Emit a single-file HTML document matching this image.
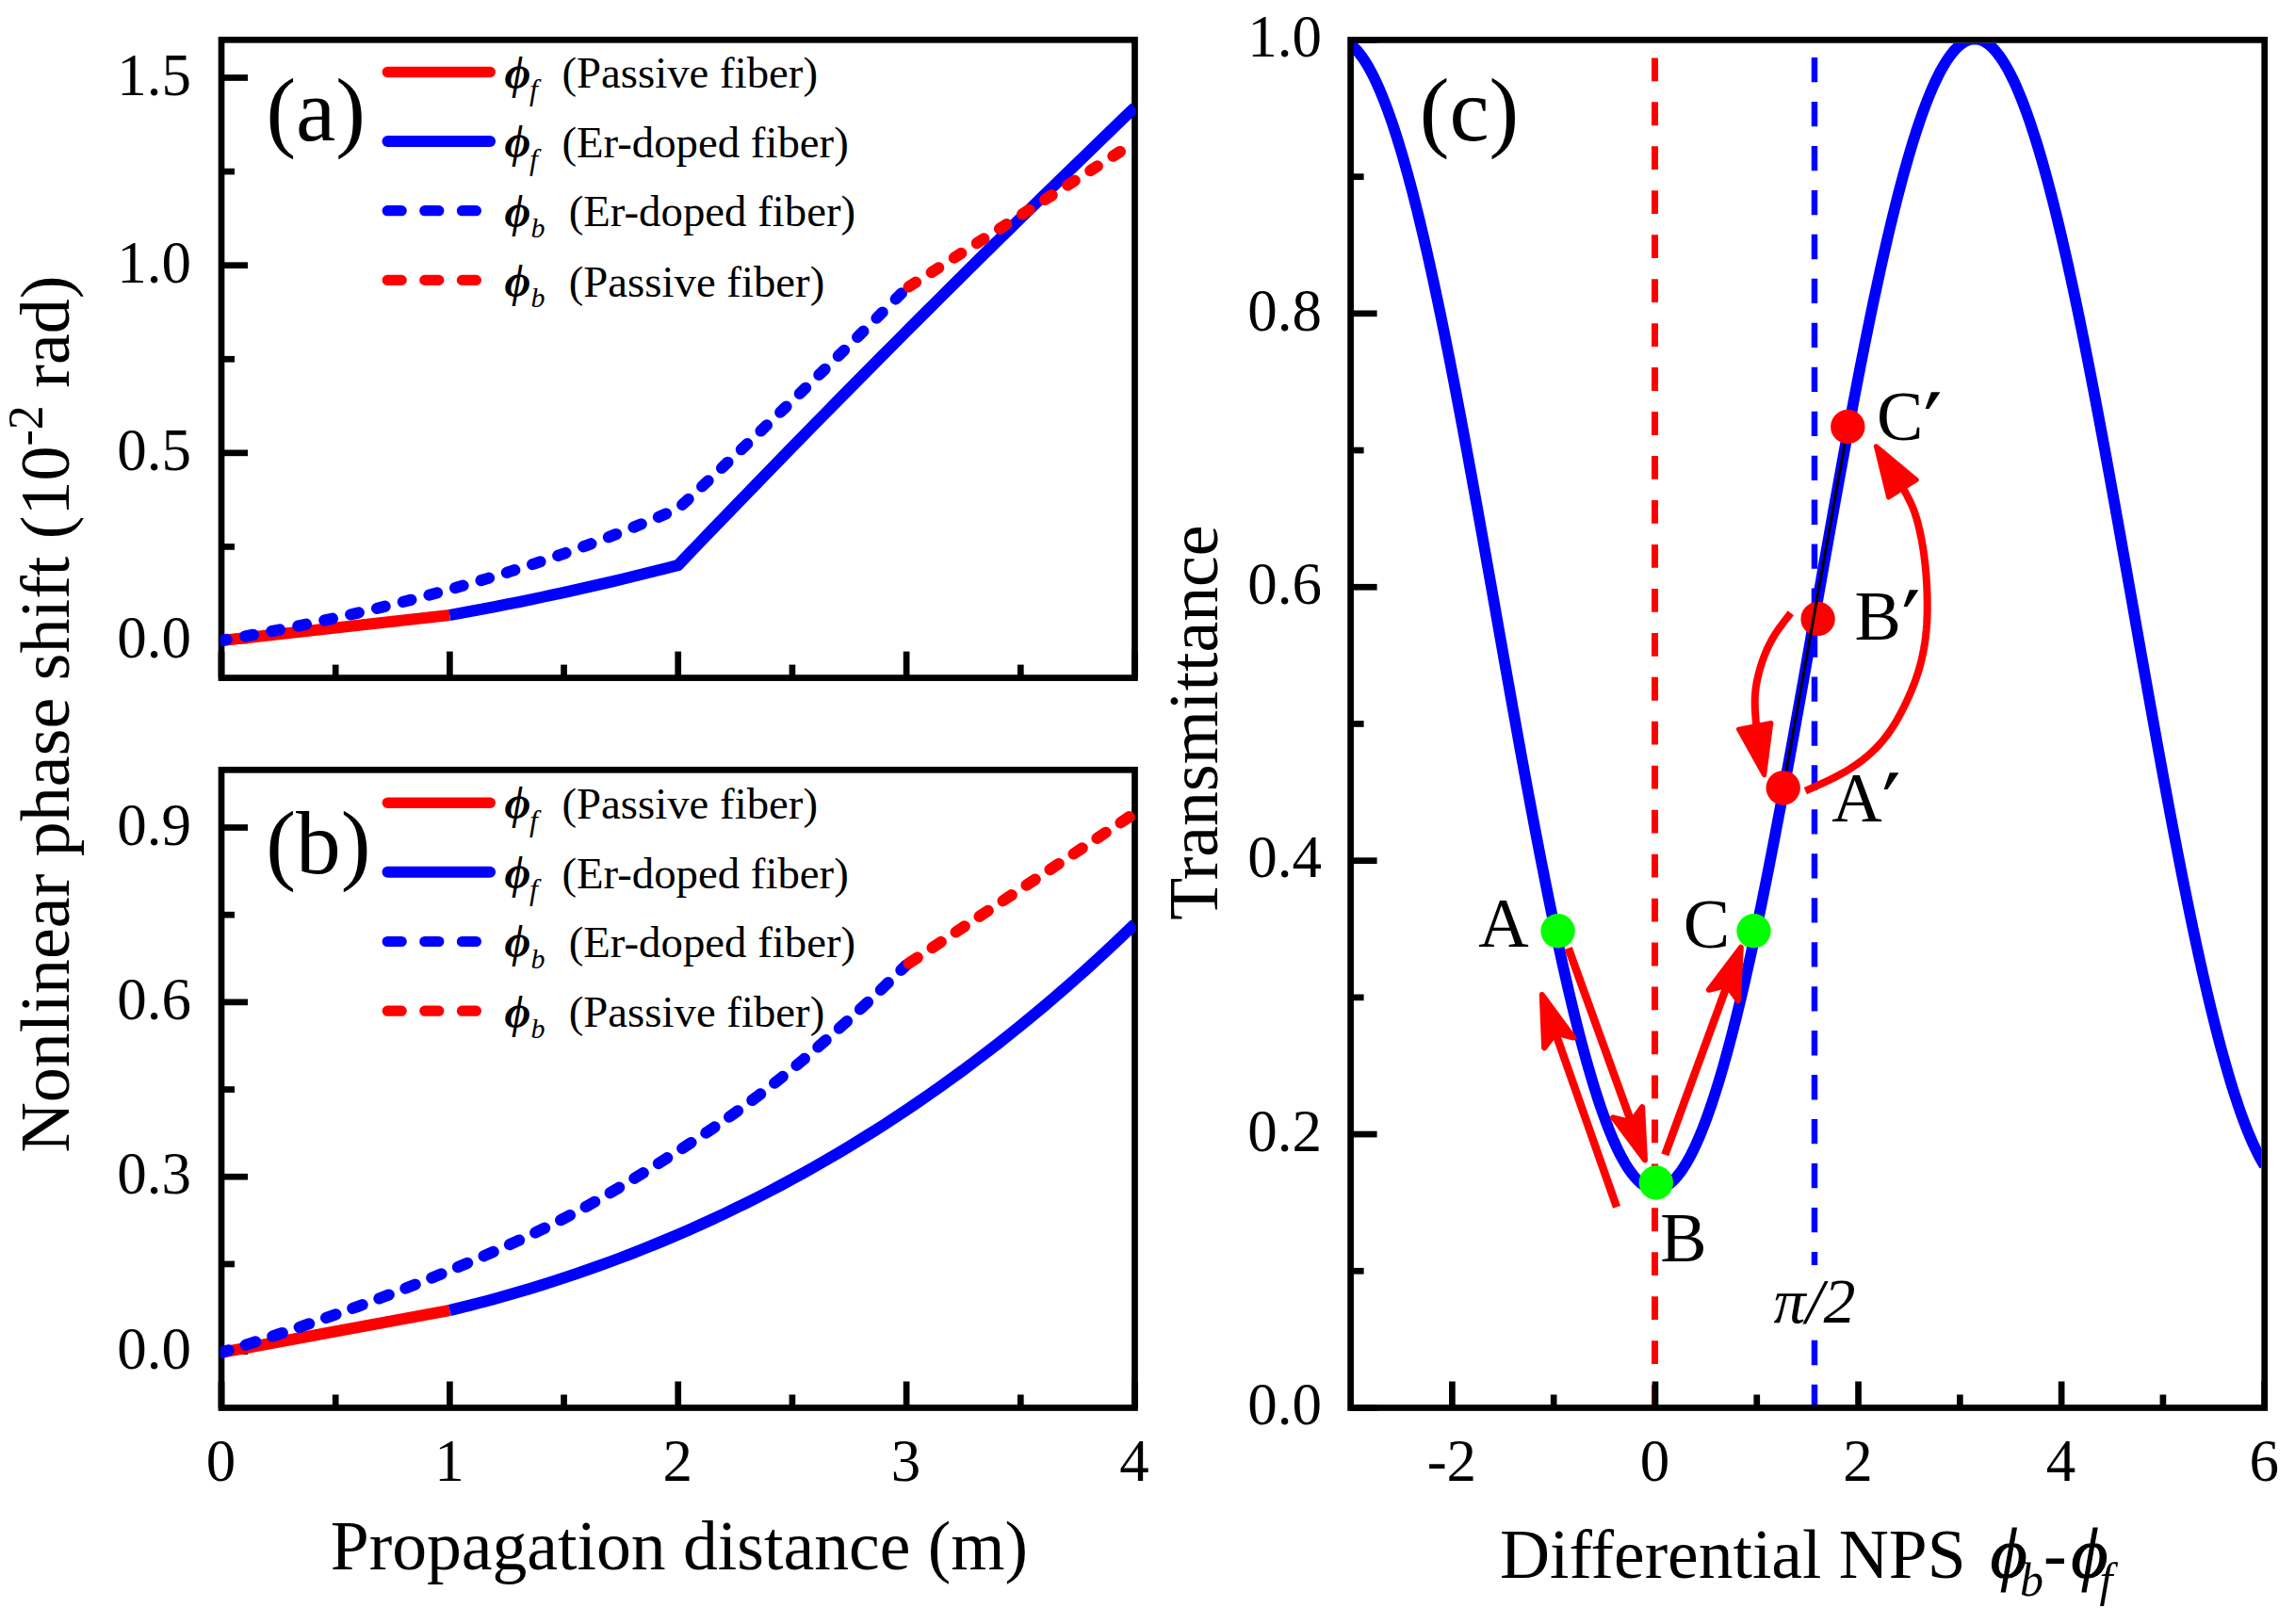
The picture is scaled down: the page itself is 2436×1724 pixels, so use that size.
<!DOCTYPE html>
<html><head><meta charset="utf-8"><title>Figure</title>
<style>
html,body{margin:0;padding:0;background:#fff;}
svg{display:block;}
text{font-family:"Liberation Serif","DejaVu Serif",serif;fill:#000;}
</style></head>
<body>
<svg width="2436" height="1724" viewBox="0 0 2436 1724">
<rect width="2436" height="1724" fill="#fff"/>
<clipPath id="ca"><rect x="234.0" y="42.3" width="972.0" height="677.3000000000001"/></clipPath>
<clipPath id="cb"><rect x="234.0" y="817.3" width="972.0" height="677.2"/></clipPath>
<clipPath id="cc"><rect x="1436.8999999999999" y="45.699999999999996" width="963.4999999999999" height="1445.5"/></clipPath>
<line x1="1756.50" y1="61.40" x2="1756.50" y2="1494.50" stroke="#ff0000" stroke-width="7" stroke-dasharray="24.8 22.16"/>
<line x1="1926.00" y1="61.00" x2="1926.00" y2="1494.50" stroke="#0000ff" stroke-width="6.5" stroke-dasharray="26.3 20.66"/>
<g id="axes">
<rect x="235.0" y="42.3" width="969.50" height="677.30" fill="none" stroke="#000" stroke-width="6.7"/>
<rect x="235.0" y="817.3" width="969.50" height="677.20" fill="none" stroke="#000" stroke-width="6.7"/>
<rect x="1433.6" y="42.4" width="970.10" height="1452.10" fill="none" stroke="#000" stroke-width="6.7"/>
<line x1="235.00" y1="680.00" x2="263.00" y2="680.00" stroke="#000" stroke-width="6.7" />
<text x="203.10" y="698.00" font-size="63" text-anchor="end" >0.0</text>
<line x1="235.00" y1="480.83" x2="263.00" y2="480.83" stroke="#000" stroke-width="6.7" />
<text x="203.10" y="498.83" font-size="63" text-anchor="end" >0.5</text>
<line x1="235.00" y1="281.67" x2="263.00" y2="281.67" stroke="#000" stroke-width="6.7" />
<text x="203.10" y="299.67" font-size="63" text-anchor="end" >1.0</text>
<line x1="235.00" y1="82.50" x2="263.00" y2="82.50" stroke="#000" stroke-width="6.7" />
<text x="203.10" y="100.50" font-size="63" text-anchor="end" >1.5</text>
<line x1="235.00" y1="580.42" x2="249.00" y2="580.42" stroke="#000" stroke-width="6.7" />
<line x1="235.00" y1="381.25" x2="249.00" y2="381.25" stroke="#000" stroke-width="6.7" />
<line x1="235.00" y1="182.08" x2="249.00" y2="182.08" stroke="#000" stroke-width="6.7" />
<line x1="235.00" y1="719.60" x2="235.00" y2="691.60" stroke="#000" stroke-width="6.7" />
<line x1="477.38" y1="719.60" x2="477.38" y2="691.60" stroke="#000" stroke-width="6.7" />
<line x1="719.75" y1="719.60" x2="719.75" y2="691.60" stroke="#000" stroke-width="6.7" />
<line x1="962.12" y1="719.60" x2="962.12" y2="691.60" stroke="#000" stroke-width="6.7" />
<line x1="1204.50" y1="719.60" x2="1204.50" y2="691.60" stroke="#000" stroke-width="6.7" />
<line x1="356.19" y1="719.60" x2="356.19" y2="705.60" stroke="#000" stroke-width="6.7" />
<line x1="598.56" y1="719.60" x2="598.56" y2="705.60" stroke="#000" stroke-width="6.7" />
<line x1="840.94" y1="719.60" x2="840.94" y2="705.60" stroke="#000" stroke-width="6.7" />
<line x1="1083.31" y1="719.60" x2="1083.31" y2="705.60" stroke="#000" stroke-width="6.7" />
<line x1="235.00" y1="1494.50" x2="235.00" y2="1466.50" stroke="#000" stroke-width="6.7" />
<text x="234.50" y="1571.80" font-size="63" text-anchor="middle" >0</text>
<line x1="477.38" y1="1494.50" x2="477.38" y2="1466.50" stroke="#000" stroke-width="6.7" />
<text x="476.88" y="1571.80" font-size="63" text-anchor="middle" >1</text>
<line x1="719.75" y1="1494.50" x2="719.75" y2="1466.50" stroke="#000" stroke-width="6.7" />
<text x="719.25" y="1571.80" font-size="63" text-anchor="middle" >2</text>
<line x1="962.12" y1="1494.50" x2="962.12" y2="1466.50" stroke="#000" stroke-width="6.7" />
<text x="961.62" y="1571.80" font-size="63" text-anchor="middle" >3</text>
<line x1="1204.50" y1="1494.50" x2="1204.50" y2="1466.50" stroke="#000" stroke-width="6.7" />
<text x="1204.00" y="1571.80" font-size="63" text-anchor="middle" >4</text>
<line x1="356.19" y1="1494.50" x2="356.19" y2="1480.50" stroke="#000" stroke-width="6.7" />
<line x1="598.56" y1="1494.50" x2="598.56" y2="1480.50" stroke="#000" stroke-width="6.7" />
<line x1="840.94" y1="1494.50" x2="840.94" y2="1480.50" stroke="#000" stroke-width="6.7" />
<line x1="1083.31" y1="1494.50" x2="1083.31" y2="1480.50" stroke="#000" stroke-width="6.7" />
<line x1="235.00" y1="1434.60" x2="263.00" y2="1434.60" stroke="#000" stroke-width="6.7" />
<text x="203.10" y="1452.60" font-size="63" text-anchor="end" >0.0</text>
<line x1="235.00" y1="1249.23" x2="263.00" y2="1249.23" stroke="#000" stroke-width="6.7" />
<text x="203.10" y="1267.23" font-size="63" text-anchor="end" >0.3</text>
<line x1="235.00" y1="1063.87" x2="263.00" y2="1063.87" stroke="#000" stroke-width="6.7" />
<text x="203.10" y="1081.87" font-size="63" text-anchor="end" >0.6</text>
<line x1="235.00" y1="878.50" x2="263.00" y2="878.50" stroke="#000" stroke-width="6.7" />
<text x="203.10" y="896.50" font-size="63" text-anchor="end" >0.9</text>
<line x1="235.00" y1="1341.92" x2="249.00" y2="1341.92" stroke="#000" stroke-width="6.7" />
<line x1="235.00" y1="1156.55" x2="249.00" y2="1156.55" stroke="#000" stroke-width="6.7" />
<line x1="235.00" y1="971.18" x2="249.00" y2="971.18" stroke="#000" stroke-width="6.7" />
<line x1="1433.60" y1="1494.50" x2="1461.60" y2="1494.50" stroke="#000" stroke-width="6.7" />
<text x="1403.00" y="1512.30" font-size="63" text-anchor="end" >0.0</text>
<line x1="1433.60" y1="1204.08" x2="1461.60" y2="1204.08" stroke="#000" stroke-width="6.7" />
<text x="1403.00" y="1221.88" font-size="63" text-anchor="end" >0.2</text>
<line x1="1433.60" y1="913.66" x2="1461.60" y2="913.66" stroke="#000" stroke-width="6.7" />
<text x="1403.00" y="931.46" font-size="63" text-anchor="end" >0.4</text>
<line x1="1433.60" y1="623.24" x2="1461.60" y2="623.24" stroke="#000" stroke-width="6.7" />
<text x="1403.00" y="641.04" font-size="63" text-anchor="end" >0.6</text>
<line x1="1433.60" y1="332.82" x2="1461.60" y2="332.82" stroke="#000" stroke-width="6.7" />
<text x="1403.00" y="350.62" font-size="63" text-anchor="end" >0.8</text>
<line x1="1433.60" y1="42.40" x2="1461.60" y2="42.40" stroke="#000" stroke-width="6.7" />
<text x="1403.00" y="60.20" font-size="63" text-anchor="end" >1.0</text>
<line x1="1433.60" y1="1349.29" x2="1447.60" y2="1349.29" stroke="#000" stroke-width="6.7" />
<line x1="1433.60" y1="1058.87" x2="1447.60" y2="1058.87" stroke="#000" stroke-width="6.7" />
<line x1="1433.60" y1="768.45" x2="1447.60" y2="768.45" stroke="#000" stroke-width="6.7" />
<line x1="1433.60" y1="478.03" x2="1447.60" y2="478.03" stroke="#000" stroke-width="6.7" />
<line x1="1433.60" y1="187.61" x2="1447.60" y2="187.61" stroke="#000" stroke-width="6.7" />
<line x1="1541.39" y1="1494.50" x2="1541.39" y2="1466.50" stroke="#000" stroke-width="6.7" />
<text x="1540.89" y="1572.30" font-size="63" text-anchor="middle" >-2</text>
<line x1="1756.97" y1="1494.50" x2="1756.97" y2="1466.50" stroke="#000" stroke-width="6.7" />
<text x="1756.47" y="1572.30" font-size="63" text-anchor="middle" >0</text>
<line x1="1972.54" y1="1494.50" x2="1972.54" y2="1466.50" stroke="#000" stroke-width="6.7" />
<text x="1972.04" y="1572.30" font-size="63" text-anchor="middle" >2</text>
<line x1="2188.12" y1="1494.50" x2="2188.12" y2="1466.50" stroke="#000" stroke-width="6.7" />
<text x="2187.62" y="1572.30" font-size="63" text-anchor="middle" >4</text>
<line x1="2403.70" y1="1494.50" x2="2403.70" y2="1466.50" stroke="#000" stroke-width="6.7" />
<text x="2403.20" y="1572.30" font-size="63" text-anchor="middle" >6</text>
<line x1="1649.18" y1="1494.50" x2="1649.18" y2="1480.50" stroke="#000" stroke-width="6.7" />
<line x1="1864.76" y1="1494.50" x2="1864.76" y2="1480.50" stroke="#000" stroke-width="6.7" />
<line x1="2080.33" y1="1494.50" x2="2080.33" y2="1480.50" stroke="#000" stroke-width="6.7" />
<line x1="2295.91" y1="1494.50" x2="2295.91" y2="1480.50" stroke="#000" stroke-width="6.7" />
</g>
<g id="panel-a" clip-path="url(#ca)">
<path d="M235.00,680.00 L477.38,653.03" fill="none" stroke="#ff0000" stroke-width="12.2" />
<path d="M477.38,653.00 L489.49,650.82 L501.61,648.58 L513.73,646.30 L525.85,643.97 L537.97,641.59 L550.09,639.16 L562.21,636.68 L574.33,634.15 L586.44,631.57 L598.56,628.95 L610.68,626.27 L622.80,623.55 L634.92,620.78 L647.04,617.95 L659.16,615.08 L671.28,612.17 L683.39,609.20 L695.51,606.18 L707.63,603.12 L719.75,600.00 L731.87,587.26 L743.99,574.63 L756.11,562.03 L768.23,549.46 L780.34,536.91 L792.46,524.39 L804.58,511.89 L816.70,499.43 L828.82,486.98 L840.94,474.56 L853.06,462.17 L865.18,449.81 L877.29,437.47 L889.41,425.15 L901.53,412.86 L913.65,400.60 L925.77,388.36 L937.89,376.15 L950.01,363.97 L962.12,351.81 L974.24,339.68 L986.36,327.57 L998.48,315.49 L1010.60,303.44 L1022.72,291.41 L1034.84,279.40 L1046.96,267.43 L1059.08,255.47 L1071.19,243.55 L1083.31,231.65 L1095.43,219.78 L1107.55,207.93 L1119.67,196.11 L1131.79,184.31 L1143.91,172.54 L1156.03,160.80 L1168.14,149.08 L1180.26,137.39 L1192.38,125.72 L1204.50,114.08" fill="none" stroke="#0000ff" stroke-width="12.2" stroke-linejoin="miter"/>
<path d="M235.00,680.00 L243.08,678.56 L251.16,677.11 L259.24,675.63 L267.32,674.12 L275.40,672.60 L283.48,671.05 L291.55,669.47 L299.63,667.87 L307.71,666.25 L315.79,664.60 L323.87,662.93 L331.95,661.23 L340.03,659.50 L348.11,657.75 L356.19,655.97 L364.27,654.16 L372.35,652.33 L380.42,650.47 L388.50,648.57 L396.58,646.65 L404.66,644.70 L412.74,642.72 L420.82,640.71 L428.90,638.67 L436.98,636.59 L445.06,634.48 L453.14,632.35 L461.22,630.17 L469.30,627.97 L477.38,625.73 L485.45,623.45 L493.53,621.14 L501.61,618.80 L509.69,616.42 L517.77,614.00 L525.85,611.54 L533.93,609.05 L542.01,606.52 L550.09,603.95 L558.17,601.33 L566.25,598.68 L574.33,595.99 L582.40,593.26 L590.48,590.48 L598.56,587.66 L606.64,584.80 L614.72,581.89 L622.80,578.94 L630.88,575.94 L638.96,572.90 L647.04,569.81 L655.12,566.67 L663.20,563.48 L671.28,560.25 L679.35,556.96 L687.43,553.62 L695.51,550.23 L703.59,546.79 L711.67,543.30 L719.75,539.75 L727.83,532.52 L735.91,525.01 L743.99,517.48 L752.07,509.93 L760.15,502.36 L768.23,494.77 L776.30,487.16 L784.38,479.52 L792.46,471.87 L800.54,464.19 L808.62,456.49 L816.70,448.76 L824.78,441.02 L832.86,433.26 L840.94,425.47 L849.02,417.66 L857.10,409.83 L865.18,401.98 L873.25,394.11 L881.33,386.21 L889.41,378.30 L897.49,370.36 L905.57,362.40 L913.65,354.42 L921.73,346.42 L929.81,338.39 L937.89,330.35 L945.97,322.28 L954.05,314.19 L962.12,306.08" fill="none" stroke="#0000ff" stroke-width="12.2" stroke-dasharray="8.8 19.8" stroke-linecap="round" stroke-dashoffset="3"/>
<path d="M962.12,306.08 L1204.50,151.00" fill="none" stroke="#ff0000" stroke-width="12.2" stroke-dasharray="8.8 19.8" stroke-linecap="round" stroke-dashoffset="-3"/>
</g>
<g id="panel-b" clip-path="url(#cb)">
<path d="M235.00,1435.80 L477.38,1391.00" fill="none" stroke="#ff0000" stroke-width="12.2" />
<path d="M477.38,1391.00 L489.49,1388.04 L501.61,1384.97 L513.73,1381.80 L525.85,1378.52 L537.97,1375.13 L550.09,1371.64 L562.21,1368.03 L574.33,1364.32 L586.44,1360.49 L598.56,1356.55 L610.68,1352.50 L622.80,1348.32 L634.92,1344.03 L647.04,1339.62 L659.16,1335.10 L671.28,1330.45 L683.39,1325.67 L695.51,1320.77 L707.63,1315.75 L719.75,1310.60 L731.87,1305.32 L743.99,1299.90 L756.11,1294.36 L768.23,1288.68 L780.34,1282.87 L792.46,1276.92 L804.58,1270.84 L816.70,1264.61 L828.82,1258.24 L840.94,1251.73 L853.06,1245.07 L865.18,1238.27 L877.29,1231.32 L889.41,1224.22 L901.53,1216.97 L913.65,1209.56 L925.77,1202.00 L937.89,1194.28 L950.01,1186.41 L962.12,1178.37 L974.24,1170.17 L986.36,1161.81 L998.48,1153.28 L1010.60,1144.58 L1022.72,1135.71 L1034.84,1126.67 L1046.96,1117.45 L1059.08,1108.06 L1071.19,1098.49 L1083.31,1088.74 L1095.43,1078.81 L1107.55,1068.70 L1119.67,1058.39 L1131.79,1047.90 L1143.91,1037.22 L1156.03,1026.34 L1168.14,1015.27 L1180.26,1004.00 L1192.38,992.53 L1204.50,980.86" fill="none" stroke="#0000ff" stroke-width="12.2" />
<path d="M235.00,1435.80 L247.12,1432.05 L259.24,1428.23 L271.36,1424.35 L283.48,1420.40 L295.59,1416.39 L307.71,1412.32 L319.83,1408.19 L331.95,1403.99 L344.07,1399.75 L356.19,1395.44 L368.31,1391.08 L380.43,1386.65 L392.54,1382.16 L404.66,1377.61 L416.78,1372.98 L428.90,1368.28 L441.02,1363.50 L453.14,1358.64 L465.26,1353.71 L477.38,1348.69 L489.49,1343.60 L501.61,1338.46 L513.73,1333.25 L525.85,1327.95 L537.97,1322.55 L550.09,1317.04 L562.21,1311.39 L574.33,1305.59 L586.44,1299.63 L598.56,1293.49 L610.68,1287.13 L622.80,1280.52 L634.92,1273.70 L647.04,1266.68 L659.16,1259.49 L671.28,1252.16 L683.39,1244.71 L695.51,1237.17 L707.63,1229.56 L719.75,1221.90 L731.87,1214.15 L743.99,1206.23 L756.11,1198.12 L768.23,1189.79 L780.34,1181.23 L792.46,1172.41 L804.58,1163.34 L816.70,1154.01 L828.82,1144.45 L840.94,1134.66 L853.06,1124.60 L865.18,1114.25 L877.29,1103.64 L889.41,1092.84 L901.53,1081.89 L913.65,1070.77 L925.77,1059.45 L937.89,1047.94 L950.01,1036.23 L962.12,1024.33" fill="none" stroke="#0000ff" stroke-width="12.2" stroke-dasharray="11 19" stroke-linecap="round" stroke-dashoffset="3"/>
<path d="M962.12,1024.33 L1204.50,863.33" fill="none" stroke="#ff0000" stroke-width="12.2" stroke-dasharray="11 19" stroke-linecap="round" stroke-dashoffset="-3"/>
</g>
<g id="panel-c" clip-path="url(#cc)">
<path d="M1433.60,47.17 L1436.03,49.21 L1438.45,51.56 L1440.88,54.21 L1443.30,57.17 L1445.73,60.42 L1448.15,63.97 L1450.58,67.83 L1453.00,71.97 L1455.43,76.42 L1457.85,81.15 L1460.28,86.17 L1462.70,91.48 L1465.13,97.07 L1467.55,102.94 L1469.98,109.09 L1472.40,115.52 L1474.83,122.21 L1477.25,129.18 L1479.68,136.41 L1482.11,143.90 L1484.53,151.64 L1486.96,159.65 L1489.38,167.90 L1491.81,176.39 L1494.23,185.13 L1496.66,194.10 L1499.08,203.30 L1501.51,212.73 L1503.93,222.38 L1506.36,232.26 L1508.78,242.34 L1511.21,252.63 L1513.63,263.12 L1516.06,273.81 L1518.48,284.69 L1520.91,295.76 L1523.33,307.00 L1525.76,318.43 L1528.18,330.02 L1530.61,341.77 L1533.04,353.68 L1535.46,365.74 L1537.89,377.95 L1540.31,390.29 L1542.74,402.77 L1545.16,415.37 L1547.59,428.09 L1550.01,440.93 L1552.44,453.87 L1554.86,466.92 L1557.29,480.05 L1559.71,493.28 L1562.14,506.58 L1564.56,519.96 L1566.99,533.40 L1569.41,546.91 L1571.84,560.46 L1574.26,574.07 L1576.69,587.71 L1579.11,601.39 L1581.54,615.09 L1583.97,628.81 L1586.39,642.54 L1588.82,656.28 L1591.24,670.01 L1593.67,683.74 L1596.09,697.45 L1598.52,711.13 L1600.94,724.79 L1603.37,738.41 L1605.79,751.98 L1608.22,765.51 L1610.64,778.97 L1613.07,792.38 L1615.49,805.71 L1617.92,818.96 L1620.34,832.13 L1622.77,845.21 L1625.19,858.19 L1627.62,871.07 L1630.05,883.83 L1632.47,896.48 L1634.90,909.00 L1637.32,921.40 L1639.75,933.65 L1642.17,945.77 L1644.60,957.73 L1647.02,969.54 L1649.45,981.19 L1651.87,992.68 L1654.30,1003.99 L1656.72,1015.12 L1659.15,1026.07 L1661.57,1036.83 L1664.00,1047.39 L1666.42,1057.76 L1668.85,1067.92 L1671.27,1077.86 L1673.70,1087.60 L1676.12,1097.11 L1678.55,1106.39 L1680.98,1115.45 L1683.40,1124.27 L1685.83,1132.86 L1688.25,1141.20 L1690.68,1149.29 L1693.10,1157.13 L1695.53,1164.71 L1697.95,1172.04 L1700.38,1179.10 L1702.80,1185.89 L1705.23,1192.42 L1707.65,1198.67 L1710.08,1204.64 L1712.50,1210.33 L1714.93,1215.74 L1717.35,1220.87 L1719.78,1225.71 L1722.20,1230.26 L1724.63,1234.51 L1727.06,1238.47 L1729.48,1242.13 L1731.91,1245.50 L1734.33,1248.56 L1736.76,1251.32 L1739.18,1253.78 L1741.61,1255.93 L1744.03,1257.78 L1746.46,1259.32 L1748.88,1260.55 L1751.31,1261.48 L1753.73,1262.09 L1756.16,1262.40 L1758.58,1262.40 L1761.01,1262.09 L1763.43,1261.47 L1765.86,1260.54 L1768.28,1259.31 L1770.71,1257.76 L1773.13,1255.91 L1775.56,1253.76 L1777.99,1251.30 L1780.41,1248.53 L1782.84,1245.47 L1785.26,1242.10 L1787.69,1238.43 L1790.11,1234.47 L1792.54,1230.22 L1794.96,1225.67 L1797.39,1220.83 L1799.81,1215.70 L1802.24,1210.28 L1804.66,1204.59 L1807.09,1198.61 L1809.51,1192.36 L1811.94,1185.83 L1814.36,1179.03 L1816.79,1171.97 L1819.21,1164.64 L1821.64,1157.06 L1824.07,1149.22 L1826.49,1141.12 L1828.92,1132.78 L1831.34,1124.20 L1833.77,1115.37 L1836.19,1106.31 L1838.62,1097.02 L1841.04,1087.51 L1843.47,1077.78 L1845.89,1067.83 L1848.32,1057.66 L1850.74,1047.30 L1853.17,1036.73 L1855.59,1025.97 L1858.02,1015.02 L1860.44,1003.89 L1862.87,992.57 L1865.29,981.09 L1867.72,969.44 L1870.14,957.63 L1872.57,945.66 L1875.00,933.54 L1877.42,921.28 L1879.85,908.89 L1882.27,896.37 L1884.70,883.72 L1887.12,870.95 L1889.55,858.07 L1891.97,845.09 L1894.40,832.01 L1896.82,818.84 L1899.25,805.59 L1901.67,792.26 L1904.10,778.85 L1906.52,765.39 L1908.95,751.86 L1911.37,738.29 L1913.80,724.67 L1916.22,711.01 L1918.65,697.32 L1921.08,683.61 L1923.50,669.89 L1925.93,656.15 L1928.35,642.42 L1930.78,628.69 L1933.20,614.97 L1935.63,601.27 L1938.05,587.59 L1940.48,573.95 L1942.90,560.34 L1945.33,546.79 L1947.75,533.28 L1950.18,519.84 L1952.60,506.46 L1955.03,493.16 L1957.45,479.93 L1959.88,466.80 L1962.30,453.76 L1964.73,440.81 L1967.15,427.98 L1969.58,415.26 L1972.01,402.65 L1974.43,390.18 L1976.86,377.84 L1979.28,365.63 L1981.71,353.57 L1984.13,341.66 L1986.56,329.91 L1988.98,318.32 L1991.41,306.90 L1993.83,295.66 L1996.26,284.59 L1998.68,273.71 L2001.11,263.03 L2003.53,252.54 L2005.96,242.25 L2008.38,232.17 L2010.81,222.30 L2013.23,212.65 L2015.66,203.22 L2018.09,194.02 L2020.51,185.05 L2022.94,176.31 L2025.36,167.82 L2027.79,159.57 L2030.21,151.57 L2032.64,143.83 L2035.06,136.34 L2037.49,129.11 L2039.91,122.15 L2042.34,115.46 L2044.76,109.03 L2047.19,102.89 L2049.61,97.02 L2052.04,91.43 L2054.46,86.12 L2056.89,81.10 L2059.31,76.37 L2061.74,71.94 L2064.16,67.79 L2066.59,63.94 L2069.02,60.39 L2071.44,57.14 L2073.87,54.19 L2076.29,51.54 L2078.72,49.19 L2081.14,47.15 L2083.57,45.42 L2085.99,43.99 L2088.42,42.88 L2090.84,42.07 L2093.27,41.56 L2095.69,41.37 L2098.12,41.49 L2100.54,41.91 L2102.97,42.65 L2105.39,43.69 L2107.82,45.04 L2110.24,46.70 L2112.67,48.66 L2115.10,50.93 L2117.52,53.51 L2119.95,56.38 L2122.37,59.56 L2124.80,63.04 L2127.22,66.81 L2129.65,70.89 L2132.07,75.25 L2134.50,79.91 L2136.92,84.86 L2139.35,90.09 L2141.77,95.61 L2144.20,101.41 L2146.62,107.49 L2149.05,113.85 L2151.47,120.48 L2153.90,127.37 L2156.32,134.53 L2158.75,141.96 L2161.17,149.64 L2163.60,157.58 L2166.03,165.76 L2168.45,174.20 L2170.88,182.87 L2173.30,191.78 L2175.73,200.93 L2178.15,210.30 L2180.58,219.90 L2183.00,229.71 L2185.43,239.74 L2187.85,249.98 L2190.28,260.42 L2192.70,271.06 L2195.13,281.89 L2197.55,292.91 L2199.98,304.11 L2202.40,315.49 L2204.83,327.04 L2207.25,338.75 L2209.68,350.62 L2212.11,362.64 L2214.53,374.81 L2216.96,387.12 L2219.38,399.57 L2221.81,412.14 L2224.23,424.83 L2226.66,437.64 L2229.08,450.55 L2231.51,463.57 L2233.93,476.69 L2236.36,489.89 L2238.78,503.17 L2241.21,516.53 L2243.63,529.96 L2246.06,543.45 L2248.48,557.00 L2250.91,570.59 L2253.33,584.22 L2255.76,597.89 L2258.18,611.59 L2260.61,625.30 L2263.04,639.03 L2265.46,652.77 L2267.89,666.50 L2270.31,680.23 L2272.74,693.94 L2275.16,707.64 L2277.59,721.30 L2280.01,734.93 L2282.44,748.52 L2284.86,762.06 L2287.29,775.54 L2289.71,788.96 L2292.14,802.31 L2294.56,815.58 L2296.99,828.77 L2299.41,841.88 L2301.84,854.88 L2304.26,867.79 L2306.69,880.58 L2309.12,893.26 L2311.54,905.81 L2313.97,918.24 L2316.39,930.53 L2318.82,942.68 L2321.24,954.69 L2323.67,966.54 L2326.09,978.23 L2328.52,989.76 L2330.94,1001.11 L2333.37,1012.29 L2335.79,1023.29 L2338.22,1034.10 L2340.64,1044.71 L2343.07,1055.13 L2345.49,1065.34 L2347.92,1075.34 L2350.34,1085.13 L2352.77,1094.70 L2355.19,1104.04 L2357.62,1113.16 L2360.05,1122.04 L2362.47,1130.69 L2364.90,1139.09 L2367.32,1147.24 L2369.75,1155.15 L2372.17,1162.80 L2374.60,1170.19 L2377.02,1177.32 L2379.45,1184.18 L2381.87,1190.77 L2384.30,1197.09 L2386.72,1203.14 L2389.15,1208.90 L2391.57,1214.39 L2394.00,1219.59 L2396.42,1224.50 L2398.85,1229.12 L2401.27,1233.45 L2403.70,1237.49" fill="none" stroke="#0000ff" stroke-width="11.8" />
</g>
<g id="legend-a">
<line x1="411.30" y1="76.50" x2="520.30" y2="76.50" stroke="#ff0000" stroke-width="11.4" stroke-linecap="round"/>
<line x1="411.50" y1="149.90" x2="520.10" y2="149.90" stroke="#0000ff" stroke-width="12" stroke-linecap="round"/>
<line x1="411.20" y1="223.70" x2="512.00" y2="223.70" stroke="#0000ff" stroke-width="11.2" stroke-linecap="round" stroke-dasharray="15 24.6"/>
<line x1="411.20" y1="297.40" x2="512.00" y2="297.40" stroke="#ff0000" stroke-width="11.2" stroke-linecap="round" stroke-dasharray="15 24.6"/>
<text x="535.50" y="93.60" font-size="48" font-style="italic" font-weight="bold">ϕ</text>
<text x="562.00" y="105.90" font-size="32" font-style="italic">f</text>
<text x="596.40" y="93.20" font-size="46.8" >(Passive fiber)</text>
<text x="535.50" y="167.30" font-size="48" font-style="italic" font-weight="bold">ϕ</text>
<text x="562.00" y="179.60" font-size="32" font-style="italic">f</text>
<text x="596.40" y="166.90" font-size="46.8" >(Er-doped fiber)</text>
<text x="535.50" y="240.50" font-size="48" font-style="italic" font-weight="bold">ϕ</text>
<text x="563.60" y="252.00" font-size="30" font-style="italic">b</text>
<text x="603.70" y="240.10" font-size="46.8" >(Er-doped fiber)</text>
<text x="535.50" y="314.90" font-size="48" font-style="italic" font-weight="bold">ϕ</text>
<text x="563.60" y="326.40" font-size="30" font-style="italic">b</text>
<text x="603.70" y="314.50" font-size="46.8" >(Passive fiber)</text>
</g>
<g id="legend-b">
<line x1="411.30" y1="852.30" x2="520.30" y2="852.30" stroke="#ff0000" stroke-width="11.4" stroke-linecap="round"/>
<line x1="411.50" y1="925.70" x2="520.10" y2="925.70" stroke="#0000ff" stroke-width="12" stroke-linecap="round"/>
<line x1="411.20" y1="999.50" x2="512.00" y2="999.50" stroke="#0000ff" stroke-width="11.2" stroke-linecap="round" stroke-dasharray="15 24.6"/>
<line x1="411.20" y1="1073.20" x2="512.00" y2="1073.20" stroke="#ff0000" stroke-width="11.2" stroke-linecap="round" stroke-dasharray="15 24.6"/>
<text x="535.50" y="869.40" font-size="48" font-style="italic" font-weight="bold">ϕ</text>
<text x="562.00" y="881.70" font-size="32" font-style="italic">f</text>
<text x="596.40" y="869.00" font-size="46.8" >(Passive fiber)</text>
<text x="535.50" y="943.10" font-size="48" font-style="italic" font-weight="bold">ϕ</text>
<text x="562.00" y="955.40" font-size="32" font-style="italic">f</text>
<text x="596.40" y="942.70" font-size="46.8" >(Er-doped fiber)</text>
<text x="535.50" y="1016.30" font-size="48" font-style="italic" font-weight="bold">ϕ</text>
<text x="563.60" y="1027.80" font-size="30" font-style="italic">b</text>
<text x="603.70" y="1015.90" font-size="46.8" >(Er-doped fiber)</text>
<text x="535.50" y="1090.70" font-size="48" font-style="italic" font-weight="bold">ϕ</text>
<text x="563.60" y="1102.20" font-size="30" font-style="italic">b</text>
<text x="603.70" y="1090.30" font-size="46.8" >(Passive fiber)</text>
</g>
<text x="282.40" y="149.20" font-size="95" >(a)</text>
<text x="282.20" y="926.60" font-size="95.5" >(b)</text>
<text x="1506.80" y="148.80" font-size="95" >(c)</text>
<text x="350.70" y="1665.50" font-size="73.67" >Propagation distance (m)</text>
<text transform="translate(73,1223.6) rotate(-90)" font-size="74">Nonlinear phase shift (10<tspan font-size="52" dy="-28">-2</tspan><tspan dy="28"> rad)</tspan></text>
<text transform="translate(1292.3,976.7) rotate(-90)" font-size="73.75">Transmittance</text>
<text x="1591.90" y="1674.50" font-size="73.5" >Differential NPS</text>
<text x="2112.80" y="1674.00" font-size="75" font-style="italic" stroke="#000" stroke-width="1.2">ϕ</text>
<text x="2143.90" y="1693.60" font-size="50" font-style="italic">b</text>
<text x="2169.10" y="1674.70" font-size="74" >-</text>
<text x="2198.60" y="1674.00" font-size="75" font-style="italic" stroke="#000" stroke-width="1.2">ϕ</text>
<text x="2228.50" y="1694.40" font-size="50" font-style="italic">f</text>
<circle cx="1929.6" cy="657.0" r="18.2" fill="#ff0000"/>
<line x1="1961.30" y1="453.00" x2="1892.70" y2="836.40" stroke="#000" stroke-width="3" />
<circle cx="1961.3" cy="453.0" r="18.2" fill="#ff0000"/>
<circle cx="1892.7" cy="836.4" r="18.2" fill="#ff0000"/>
<line x1="1664.70" y1="1006.50" x2="1731.37" y2="1191.04" stroke="#ff0000" stroke-width="8.5" />
<path d="M1745.98,1231.48 L1712.11,1186.30 L1731.37,1191.04 L1743.15,1175.08Z" fill="#ff0000" stroke="#ff0000" stroke-width="6" stroke-linejoin="round"/>
<line x1="1716.00" y1="1281.40" x2="1651.05" y2="1096.60" stroke="#ff0000" stroke-width="8.5" />
<path d="M1636.79,1056.03 L1670.27,1101.50 L1651.05,1096.60 L1639.13,1112.45Z" fill="#ff0000" stroke="#ff0000" stroke-width="6" stroke-linejoin="round"/>
<line x1="1767.30" y1="1225.90" x2="1833.09" y2="1046.10" stroke="#ff0000" stroke-width="8.5" />
<path d="M1847.87,1005.72 L1844.81,1062.10 L1833.09,1046.10 L1813.82,1050.76Z" fill="#ff0000" stroke="#ff0000" stroke-width="6" stroke-linejoin="round"/>
<path d="M1916.30,839.60 L1922.43,836.92 L1928.55,834.21 L1934.63,831.44 L1940.67,828.59 L1946.65,825.64 L1952.54,822.55 L1958.35,819.30 L1964.04,815.85 L1969.60,812.19 L1975.03,808.29 L1980.28,804.16 L1985.35,799.79 L1990.22,795.19 L1994.84,790.37 L1999.22,785.33 L2003.32,780.08 L2007.15,774.64 L2010.75,769.03 L2014.15,763.28 L2017.36,757.42 L2020.42,751.47 L2023.34,745.47 L2026.14,739.40 L2028.79,733.28 L2031.27,727.10 L2033.58,720.85 L2035.69,714.54 L2037.60,708.15 L2039.30,701.71 L2040.78,695.20 L2042.06,688.65 L2043.13,682.07 L2044.01,675.46 L2044.68,668.82 L2045.17,662.18 L2045.49,655.53 L2045.66,648.86 L2045.70,642.20 L2045.63,635.53 L2045.46,628.87 L2045.20,622.21 L2044.83,615.55 L2044.35,608.91 L2043.76,602.28 L2043.05,595.66 L2042.22,589.05 L2041.25,582.46 L2040.15,575.90 L2038.90,569.35 L2037.52,562.82 L2035.96,556.32 L2034.18,549.89 L2032.12,543.55 L2029.70,537.36 L2026.92,531.31 L2023.86,525.39 L2020.63,519.55 L2017.33,513.76 L2014.00,508.00" fill="none" stroke="#ff0000" stroke-width="8" stroke-linejoin="round"/>
<path d="M1991.33,473.72 L2034.27,509.37 L2004.60,527.93Z" fill="#ff0000" stroke="#ff0000" stroke-width="5" stroke-linejoin="round"/>
<path d="M1900.80,650.80 L1897.91,654.46 L1895.04,658.13 L1892.22,661.83 L1889.46,665.57 L1886.80,669.37 L1884.24,673.23 L1881.82,677.18 L1879.56,681.21 L1877.45,685.34 L1875.49,689.55 L1873.67,693.83 L1871.98,698.17 L1870.43,702.57 L1869.00,707.01 L1867.68,711.49 L1866.49,716.01 L1865.43,720.55 L1864.52,725.12 L1863.78,729.70 L1863.22,734.31 L1862.86,738.93 L1862.70,743.56 L1862.72,748.19 L1862.89,752.83 L1863.16,757.47 L1863.50,762.11 L1863.87,766.75 L1864.23,771.38 L1864.60,776.00" fill="none" stroke="#ff0000" stroke-width="8" stroke-linejoin="round"/>
<path d="M1872.63,822.84 L1845.45,774.09 L1879.83,767.50Z" fill="#ff0000" stroke="#ff0000" stroke-width="5" stroke-linejoin="round"/>
<circle cx="1653.6" cy="988.3" r="18.2" fill="#00ff00"/>
<circle cx="1861.5" cy="988.3" r="18.2" fill="#00ff00"/>
<circle cx="1757.8" cy="1255.5" r="18.2" fill="#00ff00"/>
<text x="1569.20" y="1004.90" font-size="74" >A</text>
<text x="1786.80" y="1005.80" font-size="74" >C</text>
<text x="1762.20" y="1338.70" font-size="74" >B</text>
<text x="1992.00" y="467.30" font-size="74" >C</text>
<text transform="translate(2035.8,466.3) skewX(-14)" font-size="76" font-style="italic" font-weight="bold" x="-6.3" y="0">′</text>
<text x="1968.50" y="679.40" font-size="74" >B</text>
<text transform="translate(2012.7,676.1) skewX(-14)" font-size="76" font-style="italic" font-weight="bold" x="-6.3" y="0">′</text>
<text x="1944.30" y="871.60" font-size="74" >A</text>
<text transform="translate(1991.9,869.8) skewX(-14)" font-size="76" font-style="italic" font-weight="bold" x="-6.3" y="0">′</text>
<rect x="1878" y="1343" width="100" height="72" fill="#fff"/>
<text x="1882.50" y="1404.00" font-size="68" font-style="italic">π/2</text>
</svg>
</body></html>
